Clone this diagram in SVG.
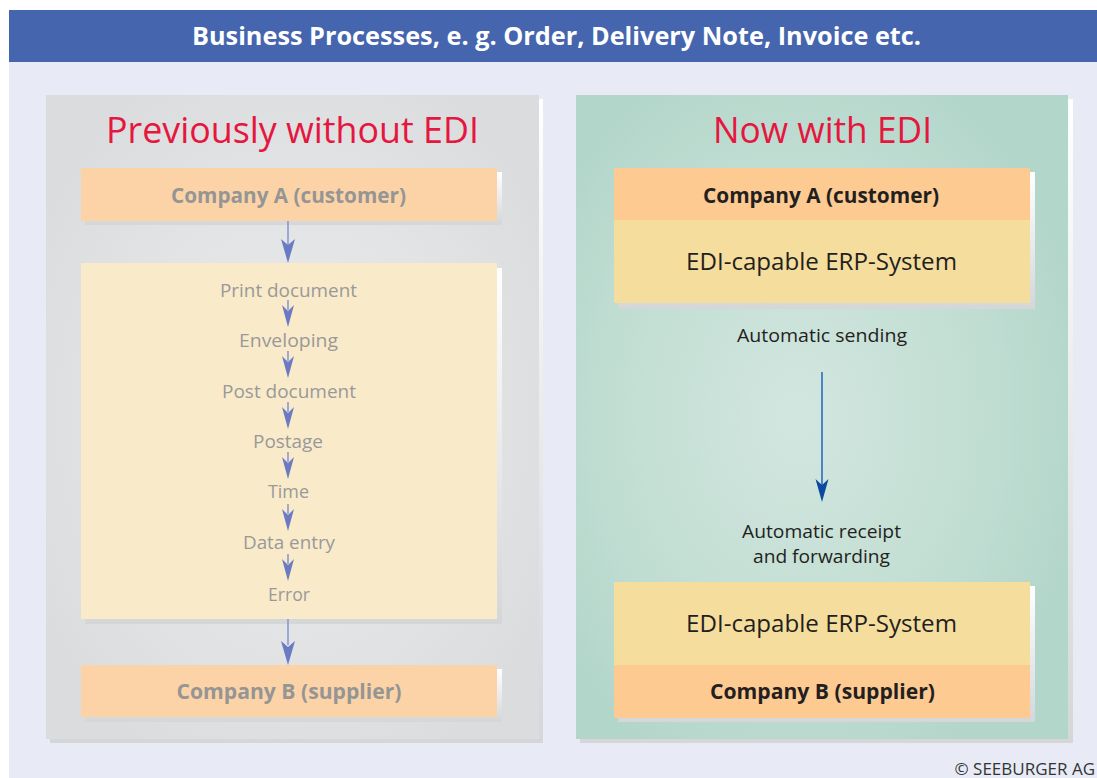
<svg xmlns="http://www.w3.org/2000/svg" width="1097" height="778" viewBox="0 0 1097 778">
<defs>
<style>
.hdr{font-family:"Open Sans","Noto Sans",sans-serif;font-weight:bold;font-size:25px;fill:#ffffff}
.ttl{font-family:"Open Sans","Noto Sans",sans-serif;font-size:37px;fill:#E5173F}
.cmpG{font-family:"Open Sans","Noto Sans",sans-serif;font-weight:bold;font-size:22px;fill:#959595}
.cmpK{font-family:"Open Sans","Noto Sans",sans-serif;font-weight:bold;font-size:22px;fill:#231F20}
.step{font-family:"Open Sans","Noto Sans",sans-serif;font-size:19px;fill:#999999}
.erp{font-family:"Open Sans","Noto Sans",sans-serif;font-size:24px;fill:#231F20}
.lbl{font-family:"Open Sans","Noto Sans",sans-serif;font-size:19px;fill:#231F20}
.copy{font-family:"Open Sans","Noto Sans",sans-serif;font-size:17px;fill:#333333}
.lline{stroke:#8A98D2;stroke-width:1.6;fill:none}
.lhead{fill:#6A7BC4}
.rline{stroke:#4A86C4;stroke-width:2;fill:none}
.rhead{fill:#0B4A9D}
</style>
<linearGradient id="shd" x1="0" y1="0" x2="0" y2="1">
<stop offset="0" stop-color="#FFFFFF"/>
<stop offset="1" stop-color="#D5D6D8"/>
</linearGradient>
<radialGradient id="gL" cx="0.5" cy="0.5" r="0.6">
<stop offset="0" stop-color="#E9EAEB"/>
<stop offset="0.6" stop-color="#E2E3E4"/>
<stop offset="1" stop-color="#DBDCDE"/>
</radialGradient>
<radialGradient id="gR" cx="0.45" cy="0.5" r="0.6">
<stop offset="0" stop-color="#D2E6DF"/>
<stop offset="0.6" stop-color="#C2DED3"/>
<stop offset="1" stop-color="#B3D6CA"/>
</radialGradient>
</defs>

<rect x="0" y="0" width="1097" height="778" fill="#FFFFFF"/>
<rect x="9" y="62" width="1088" height="716" fill="#E8EBF6"/>

<g id="header">
<rect x="9" y="10" width="1088" height="52" fill="#4565AE"/>
<text class="hdr" x="556.5" y="45" text-anchor="middle" textLength="729" lengthAdjust="spacingAndGlyphs">Business Processes, e. g. Order, Delivery Note, Invoice etc.</text>
</g>

<g id="panel-left">
<rect x="50" y="99" width="493" height="644" fill="url(#shd)"/>
<rect x="46" y="95" width="493" height="644" fill="url(#gL)"/>
<text class="ttl" x="292.5" y="143" text-anchor="middle" textLength="373" lengthAdjust="spacingAndGlyphs">Previously without EDI</text>
</g>

<g id="panel-right">
<rect x="580" y="99" width="493" height="644" fill="url(#shd)"/>
<rect x="576" y="95" width="492" height="644" fill="url(#gR)"/>
<text class="ttl" x="822.5" y="143" text-anchor="middle" textLength="219" lengthAdjust="spacingAndGlyphs">Now with EDI</text>
</g>

<g id="left-company-a">
<rect x="85" y="172" width="417" height="53" fill="url(#shd)"/>
<rect x="81" y="168" width="416" height="53" fill="#FCD3A6"/>
<text class="cmpG" x="288.5" y="203" text-anchor="middle" textLength="235" lengthAdjust="spacingAndGlyphs">Company A (customer)</text>
</g>

<g id="left-steps">
<rect x="85" y="268" width="417" height="356" fill="url(#shd)"/>
<rect x="81" y="263" width="416" height="356" fill="#F9EACA"/>
<text class="step" x="288.5" y="297" text-anchor="middle" textLength="137" lengthAdjust="spacingAndGlyphs">Print document</text>
<text class="step" x="288.5" y="347" text-anchor="middle" textLength="99" lengthAdjust="spacingAndGlyphs">Enveloping</text>
<text class="step" x="289" y="398" text-anchor="middle" textLength="134" lengthAdjust="spacingAndGlyphs">Post document</text>
<text class="step" x="288" y="448" text-anchor="middle" textLength="70" lengthAdjust="spacingAndGlyphs">Postage</text>
<text class="step" x="288.5" y="498" text-anchor="middle" textLength="41" lengthAdjust="spacingAndGlyphs">Time</text>
<text class="step" x="289" y="549" text-anchor="middle" textLength="92" lengthAdjust="spacingAndGlyphs">Data entry</text>
<text class="step" x="289" y="601" text-anchor="middle" textLength="42" lengthAdjust="spacingAndGlyphs">Error</text>
</g>

<g id="left-company-b">
<rect x="85" y="669" width="417" height="53" fill="url(#shd)"/>
<rect x="81" y="665" width="416" height="52" fill="#FCD3A6"/>
<text class="cmpG" x="289" y="699" text-anchor="middle" textLength="225" lengthAdjust="spacingAndGlyphs">Company B (supplier)</text>
</g>

<g id="right-company-a">
<rect x="618" y="172" width="417" height="137" fill="url(#shd)"/>
<rect x="614" y="168" width="416" height="52" fill="#FDCA92"/>
<rect x="614" y="220" width="416" height="83" fill="#F5DD9D"/>
<text class="cmpK" x="821" y="203" text-anchor="middle" textLength="236" lengthAdjust="spacingAndGlyphs">Company A (customer)</text>
<text class="erp" x="821.5" y="270" text-anchor="middle" textLength="271" lengthAdjust="spacingAndGlyphs">EDI-capable ERP-System</text>
</g>

<g id="right-labels">
<text class="lbl" x="822" y="342" text-anchor="middle" textLength="170" lengthAdjust="spacingAndGlyphs">Automatic sending</text>
<text class="lbl" x="821.5" y="538" text-anchor="middle" textLength="159" lengthAdjust="spacingAndGlyphs">Automatic receipt</text>
<text class="lbl" x="821.5" y="563" text-anchor="middle" textLength="137" lengthAdjust="spacingAndGlyphs">and forwarding</text>
</g>

<g id="right-company-b">
<rect x="618" y="586" width="417" height="136" fill="url(#shd)"/>
<rect x="614" y="582" width="416" height="83" fill="#F5DD9D"/>
<rect x="614" y="665" width="416" height="53" fill="#FDCA92"/>
<text class="erp" x="821.5" y="632" text-anchor="middle" textLength="271" lengthAdjust="spacingAndGlyphs">EDI-capable ERP-System</text>
<text class="cmpK" x="822.5" y="699" text-anchor="middle" textLength="225" lengthAdjust="spacingAndGlyphs">Company B (supplier)</text>
</g>

<g id="connectors">
<line class="lline" x1="288" y1="221" x2="288" y2="248"/>
<path class="lhead" d="M288,263 L281,239 L288,245 L295,239 Z"/>
<line class="lline" x1="288" y1="619" x2="288" y2="645"/>
<path class="lhead" d="M288,665 L281,641 L288,647 L295,641 Z"/>

<line class="lline" x1="288" y1="300" x2="288" y2="310"/>
<path class="lhead" d="M288,327 L282,305 L288,311 L294,305 Z"/>
<line class="lline" x1="288" y1="351" x2="288" y2="361"/>
<path class="lhead" d="M288,378 L282,356 L288,362 L294,356 Z"/>
<line class="lline" x1="288" y1="402" x2="288" y2="412"/>
<path class="lhead" d="M288,429 L282,407 L288,413 L294,407 Z"/>
<line class="lline" x1="288" y1="452" x2="288" y2="462"/>
<path class="lhead" d="M288,479 L282,457 L288,463 L294,457 Z"/>
<line class="lline" x1="288" y1="504" x2="288" y2="514"/>
<path class="lhead" d="M288,531 L282,509 L288,515 L294,509 Z"/>
<line class="lline" x1="288" y1="554" x2="288" y2="564"/>
<path class="lhead" d="M288,581 L282,559 L288,565 L294,559 Z"/>

<line class="rline" x1="822" y1="372" x2="822" y2="486"/>
<path class="rhead" d="M822,502 L815.5,479 L822,485 L828.5,479 Z"/>
</g>

<text class="copy" x="1095" y="775" text-anchor="end">© SEEBURGER AG</text>
</svg>
